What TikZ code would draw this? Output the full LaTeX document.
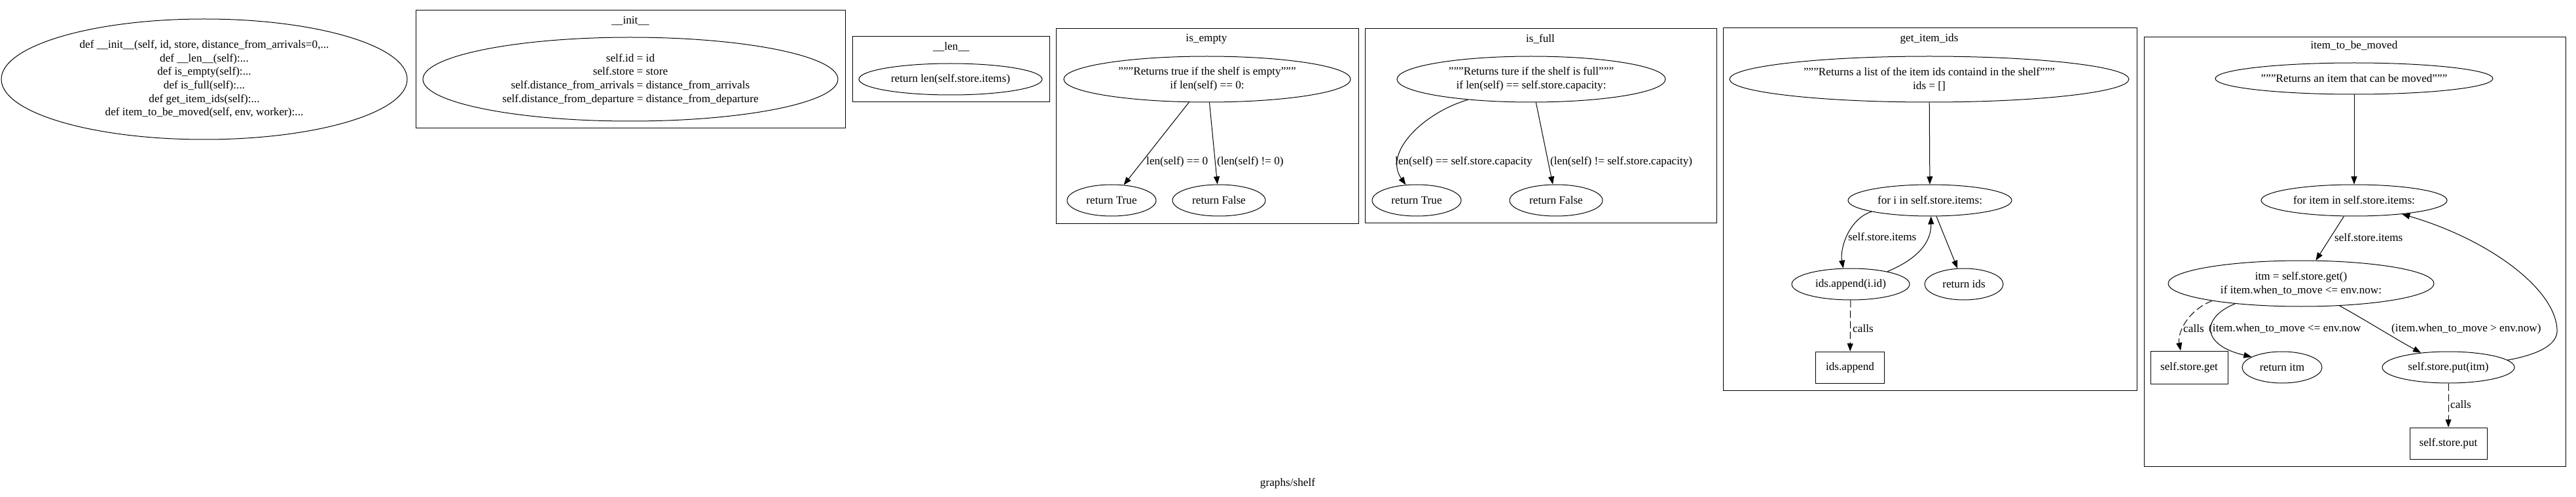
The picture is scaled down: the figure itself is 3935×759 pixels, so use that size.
\documentclass[tikz,border=0pt]{standalone}
\usepackage{fontspec}
\setmainfont{Liberation Serif}
\usetikzlibrary{shapes.geometric,arrows.meta}
\begin{document}
\begin{tikzpicture}[
  x=1pt, y=-1pt,
  every node/.style = {font=\fontsize{17.2}{20.6}\selectfont,
    inner sep=0pt, align=center},
  func/.style = {draw, ellipse, line width=1pt},
  callee/.style = {draw, rectangle, line width=1pt},
  cluster/.style = {draw, line width=1pt},
  lbl/.style = {anchor=west},
  flow/.style = {line width=1pt, -{Triangle[length=12pt,width=9pt]}},
  calls/.style = {flow, dash pattern=on 11pt off 5pt}]
  \useasboundingbox (0,0) rectangle (3935,759);
  \node (shelf) [func, minimum width=620pt, minimum height=184pt] at (312,121)
    {def \_\_init\_\_(self, id, store, distance\_from\_arrivals=0,...\\def \_\_len\_\_(self):...\\def is\_empty(self):...\\def is\_full(self):...\\def get\_item\_ids(self):...\\def item\_to\_be\_moved(self, env, worker):...};

  \draw[cluster] (635,16) rectangle (1291,196);
  \node (tinit) at (963,32) {\_\_init\_\_};
  \node (initbody) [func, minimum width=634pt, minimum height=128pt] at (963,121)
    {self.id = id\\self.store = store\\self.distance\_from\_arrivals = distance\_from\_arrivals\\self.distance\_from\_departure = distance\_from\_departure};

  \draw[cluster] (1302,56) rectangle (1603,156);
  \node (tlen) at (1453,72) {\_\_len\_\_};
  \node (lenbody) [func, minimum width=280pt, minimum height=48pt] at (1452,121) {return len(self.store.items)};

  \draw[cluster] (1613,44) rectangle (2075,341);
  \node (tempty) at (1843,60) {is\_empty};
  \node (etop) [func, minimum width=438pt, minimum height=70pt] at (1844,121)
    {"""Returns true if the shelf is empty"""\\if len(self) == 0:};
  \node (etrue) [func, minimum width=136pt, minimum height=48pt] at (1698,306) {return True};
  \node (efalse) [func, minimum width=142pt, minimum height=48pt] at (1862,306) {return False};
  \node (letrue) [lbl] at (1751,247) {len(self) == 0};
  \node (lefalse) [lbl] at (1859,247) {(len(self) != 0)};
  \draw[flow] (etop) -- (etrue);
  \draw[flow] (etop) -- (efalse);

  \draw[cluster] (2085,44) rectangle (2622,340);
  \node (tfull) at (2353,60) {is\_full};
  \node (ftop) [func, minimum width=410pt, minimum height=70pt] at (2339,121)
    {"""Returns ture if the shelf is full"""\\if len(self) == self.store.capacity:};
  \node (ftrue) [func, minimum width=136pt, minimum height=48pt] at (2164,306) {return True};
  \node (ffalse) [func, minimum width=142pt, minimum height=48pt] at (2377,306) {return False};
  \node (lftrue) [lbl] at (2131,247) {len(self) == self.store.capacity};
  \node (lffalse) [lbl] at (2368,247) {(len(self) != self.store.capacity)};
  \draw[flow] (ftop.198) .. controls (2177,171) and (2112,232) .. (ftrue);
  \draw[flow] (ftop) -- (ffalse);

  \draw[cluster] (2632,43) rectangle (3264,596);
  \node (tget) at (2947,59) {get\_item\_ids};
  \node (gtop) [func, minimum width=610pt, minimum height=70pt] at (2947,121)
    {"""Returns a list of the item ids containd in the shelf"""\\ids = []};
  \node (gfor) [func, minimum width=250pt, minimum height=48pt] at (2948,306) {for i in self.store.items:};
  \node (gapp) [func, minimum width=180pt, minimum height=48pt] at (2827,434) {ids.append(i.id)};
  \node (gret) [func, minimum width=120pt, minimum height=48pt] at (3000,434) {return ids};
  \node (gcall) [callee, minimum width=105pt, minimum height=48pt] at (2826,561) {ids.append};
  \node (lgitems) [lbl] at (2823,362) {self.store.items};
  \node (lgcalls) [lbl] at (2830,502) {calls};
  \draw[flow] (gtop) -- (gfor);
  \draw[flow] (gfor.191) .. controls (2826,333) and (2810,378) .. (gapp.115);
  \draw[flow] (gapp.19) .. controls (2930,395) and (2950,370) .. (gfor.-86);
  \draw[flow] (gfor) -- (gret);
  \draw[calls] (gapp) -- (gcall);

  \draw[cluster] (3275,57) rectangle (3919,712);
  \node (tmove) at (3596,70) {item\_to\_be\_moved};
  \node (mtop) [func, minimum width=424pt, minimum height=48pt] at (3596,120)
    {"""Returns an item that can be moved"""};
  \node (mfor) [func, minimum width=284pt, minimum height=48pt] at (3596,306) {for item in self.store.items:};
  \node (mget) [func, minimum width=406pt, minimum height=70pt] at (3515,433)
    {itm = self.store.get()\\if item.when\_to\_move <= env.now:};
  \node (mcallget) [callee, minimum width=118pt, minimum height=50pt] at (3344,561) {self.store.get};
  \node (mret) [func, minimum width=122pt, minimum height=48pt] at (3486,561) {return itm};
  \node (mput) [func, minimum width=202pt, minimum height=48pt] at (3740,561) {self.store.put(itm)};
  \node (mcallput) [callee, minimum width=118pt, minimum height=48pt] at (3740,677) {self.store.put};
  \node (lmitems) [lbl] at (3566,363) {self.store.items};
  \node (lmcget) [lbl] at (3335,502) {calls};
  \node (lmle) [lbl] at (3374,502) {(item.when\_to\_move <= env.now};
  \node (lmgt) [lbl] at (3653,502) {(item.when\_to\_move > env.now)};
  \node (lmcput) [lbl] at (3743,618) {calls};
  \draw[flow] (mtop) -- (mfor);
  \draw[flow] (mfor) -- (mget);
  \draw[calls] (mget.191) .. controls (3340,475) and (3326,510) .. (mcallget.117);
  \draw[flow] (mget.197) .. controls (3362,485) and (3362,527) .. (mret.161);
  \draw[flow] (mget.-30) .. controls (3612,488) and (3660,518) .. (mput.152);
  \draw[flow] (mput.7) .. controls (3880,541) and (3908,525) .. (3906,503)
    .. controls (3903,440) and (3800,365) .. (mfor.-16);
  \draw[calls] (mput) -- (mcallput);

  \node (footer) at (1967,738) {graphs/shelf};
\end{tikzpicture}
\end{document}
